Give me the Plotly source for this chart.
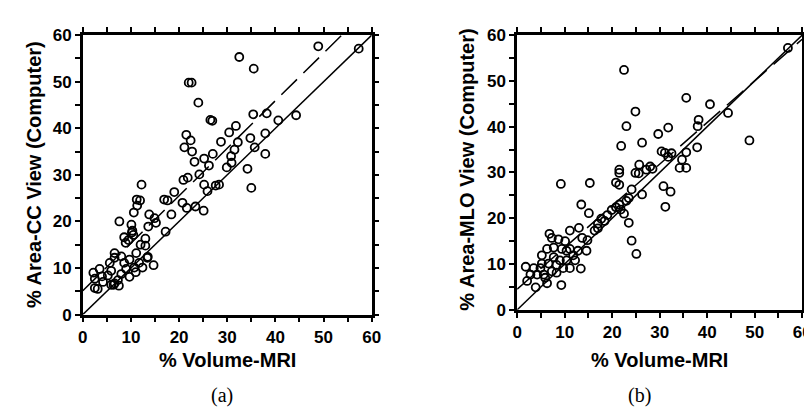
import plotly.graph_objects as go

# (a) CC view: % Volume-MRI vs % Area-CC View (Computer)
cc_x = [32.5, 22.0, 22.6, 24.0, 26.5, 26.9, 31.8, 30.4, 21.5, 22.4, 28.7, 21.1, 22.7, 27.0,
        25.2, 23.2, 26.2, 30.8, 30.9, 29.9, 31.5, 48.9, 57.3, 35.5, 35.4, 38.2, 40.6, 44.3,
        37.9, 34.8, 32.2, 35.7, 37.9, 34.2, 35.0, 24.2, 20.9, 21.8, 25.2, 25.9, 27.6, 28.3,
        12.2, 11.2, 11.9, 11.3, 16.9, 17.6, 19.0, 20.7, 21.6, 23.4, 25.1, 10.6, 13.8, 7.6,
        10.1, 13.6, 14.9, 15.2, 18.4, 10.3, 10.5, 17.2, 8.6, 13.0, 8.9, 13.0, 11.1, 6.6,
        13.5, 14.7, 2.2, 2.5, 3.1, 6.4, 13.4, 10.2, 3.5, 2.5, 4.2, 5.2, 5.9, 6.6, 5.6, 6.6,
        8.0, 8.6, 9.7, 9.0, 8.0, 9.7, 10.7, 11.0, 11.7, 12.4, 7.3, 5.9, 4.0, 7.5, 9.5, 12.0]
cc_y = [55.3, 49.8, 49.8, 45.5, 41.8, 41.6, 40.5, 39.1, 38.6, 37.4, 37.1, 35.9, 35.0, 34.5,
        33.5, 32.8, 32.0, 34.0, 32.6, 31.6, 35.4, 57.6, 57.1, 52.8, 43.0, 43.2, 41.7, 42.8,
        38.9, 37.9, 37.0, 35.9, 34.5, 31.3, 27.2, 30.1, 28.9, 29.4, 27.9, 26.5, 27.7, 27.9,
        27.9, 24.7, 24.5, 23.4, 24.7, 24.5, 26.3, 24.0, 22.9, 23.2, 22.3, 21.9, 21.5, 20.0,
        19.3, 18.9, 20.7, 19.7, 21.5, 18.0, 17.1, 17.8, 16.6, 16.3, 15.4, 14.8, 13.2, 13.2,
        12.4, 10.6, 9.0, 5.7, 5.5, 6.4, 12.2, 17.6, 9.8, 7.7, 7.0, 8.4, 9.4, 6.7, 11.1, 12.2,
        12.5, 11.1, 11.8, 9.8, 8.7, 8.1, 10.1, 9.1, 11.1, 10.1, 7.4, 6.4, 8.2, 6.2, 16.0, 15.0]

# (b) MLO view: % Volume-MRI vs % Area-MLO View (Computer)
mlo_x = [22.5, 24.9, 23.0, 21.9, 26.3, 25.7, 21.5, 35.6, 40.6, 44.4, 38.2, 38.0, 31.8, 29.7,
         48.9, 37.9, 30.4, 31.1, 32.5, 35.6, 31.8, 34.7, 28.0, 34.2, 35.6, 57.0, 9.2, 15.3,
         21.5, 20.8, 21.5, 24.9, 25.6, 24.1, 26.3, 13.5, 15.1, 22.5, 23.5, 24.1, 25.1, 19.0,
         17.7, 17.0, 18.4, 19.9, 20.8, 21.5, 21.8, 23.0, 23.5, 17.0, 16.3, 13.0, 14.8, 13.7,
         11.1, 14.6, 13.4, 9.3, 6.3, 3.9, 1.8, 2.1, 6.8, 7.3, 30.8, 31.2, 32.3, 28.5, 27.2,
         3.5, 4.9, 4.2, 5.6, 5.2, 6.3, 5.2, 6.6, 7.7, 8.3, 9.0, 9.7, 10.4, 11.1, 12.2, 7.3,
         5.9, 8.3, 7.7, 9.4, 10.4, 8.7, 10.1, 11.8, 12.8, 2.8, 11.1]
mlo_y = [52.4, 43.3, 40.1, 35.8, 36.5, 31.7, 30.6, 46.3, 44.9, 43.0, 41.5, 40.1, 39.8, 38.4,
         37.0, 35.5, 34.6, 34.3, 34.2, 34.4, 33.4, 32.8, 31.3, 31.0, 31.0, 57.2, 27.5, 27.7,
         29.9, 27.8, 27.3, 29.9, 29.8, 26.3, 25.2, 23.0, 21.1, 21.0, 19.0, 15.1, 12.2, 20.7,
         19.9, 18.8, 19.4, 21.8, 22.4, 23.0, 21.9, 23.8, 24.4, 17.8, 17.3, 17.9, 15.2, 15.7,
         17.3, 12.9, 9.0, 5.4, 5.8, 4.9, 9.4, 6.3, 16.6, 15.7, 27.0, 22.5, 25.8, 30.8, 30.6,
         9.1, 9.1, 7.7, 7.7, 11.9, 13.3, 10.1, 10.1, 11.5, 9.8, 10.8, 9.1, 10.8, 9.1, 10.8, 8.4,
         7.0, 8.1, 13.6, 13.3, 12.9, 15.4, 15.0, 11.9, 12.9, 7.7, 13.3]

# fitted regression lines (dashed) and line of identity (solid)
cc_fit_x = [0, 53.8]
cc_fit_y = [5.1, 60]
mlo_fit_x = [0, 60]
mlo_fit_y = [4.5, 59.1]
identity = [0, 60]

tick_values = [0, 5, 10, 15, 20, 25, 30, 35, 40, 45, 50, 55, 60]
tick_text = ["0", "", "10", "", "20", "", "30", "", "40", "", "50", "", "60"]

W, H = 812, 411
fig = go.Figure()

panels = [
    (cc_x, cc_y, cc_fit_x, cc_fit_y, "x", "y"),
    (mlo_x, mlo_y, mlo_fit_x, mlo_fit_y, "x2", "y2"),
]
for px, py, fx, fy, xa, ya in panels:
    fig.add_trace(go.Scatter(x=identity, y=identity, mode="lines",
                             line=dict(color="black", width=1.5),
                             xaxis=xa, yaxis=ya, showlegend=False))
    fig.add_trace(go.Scatter(x=fx, y=fy, mode="lines",
                             line=dict(color="black", width=1.5, dash="22px,9px"),
                             xaxis=xa, yaxis=ya, showlegend=False))
    fig.add_trace(go.Scatter(x=px, y=py, mode="markers",
                             marker=dict(symbol="circle-open", size=8, color="black",
                                         line=dict(width=1.8, color="black")),
                             xaxis=xa, yaxis=ya, showlegend=False, cliponaxis=False))

axis_style = dict(range=[0, 60], tickvals=tick_values, ticktext=tick_text,
                  ticks="outside", ticklen=5, tickwidth=2, tickcolor="black",
                  showline=True, linewidth=2.5, linecolor="black", mirror="ticks",
                  showgrid=False, zeroline=False,
                  tickfont=dict(family="Arial", size=17, color="black", weight="bold"))

fig.update_layout(
    width=W, height=H,
    margin=dict(l=0, r=0, t=0, b=0),
    paper_bgcolor="white", plot_bgcolor="white",
    xaxis=dict(domain=[71 / W, 365 / W], anchor="y", **axis_style),
    yaxis=dict(domain=[1 - 312 / H, 1 - 19 / H], anchor="x", **axis_style),
    xaxis2=dict(domain=[513 / W, 803 / W], anchor="y2", **axis_style),
    yaxis2=dict(domain=[1 - 307 / H, 1 - 19 / H], anchor="x2", **axis_style),
)

title_font = dict(family="Arial", size=20, color="black", weight="bold")
caption_font = dict(family="Liberation Serif", size=20, color="black")
notes = [
    ("% Volume-MRI", 218 / W, 1 - 360 / H, 0, title_font),
    ("% Volume-MRI", 658 / W, 1 - 360 / H, 0, title_font),
    ("% Area-CC View (Computer)", 22 / W, 1 - 165 / H, -90, title_font),
    ("% Area-MLO View (Computer)", 462 / W, 1 - 160 / H, -90, title_font),
    ("(a)", 213 / W, 1 - 397 / H, 0, caption_font),
    ("(b)", 637 / W, 1 - 397 / H, 0, caption_font),
]
for text, x, y, ang, f in notes:
    fig.add_annotation(text=text, x=x, y=y, xref="paper", yref="paper",
                       showarrow=False, textangle=ang, font=f,
                       xanchor="center", yanchor="middle")

fig.write_html("out.html")
